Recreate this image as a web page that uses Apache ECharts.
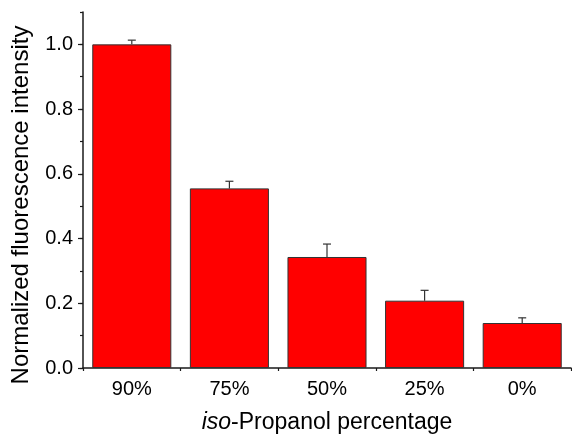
<!DOCTYPE html>
<html><head><meta charset="utf-8">
<script src="https://cdn.jsdelivr.net/npm/echarts@6/dist/echarts.min.js"></script>
<style>html,body{margin:0;padding:0;background:#fff}#c{width:572px;height:439px}</style>
</head><body><div id="c"></div>
<script>
const categories = ['90%', '75%', '50%', '25%', '0%'];
const values = [1.0, 0.555, 0.343, 0.208, 0.139];
const errors = [0.013, 0.022, 0.040, 0.032, 0.016];
const xTitleItalic = 'iso';
const xTitleRest = '-Propanol percentage';
const yTitle = 'Normalized fluorescence intensity';

const FONT = 'Arial, "Liberation Sans", sans-serif';
const AX = '#1a1a1a';
const chart = echarts.init(document.getElementById('c'), null, {renderer: 'canvas'});
chart.setOption({
  animation: false,
  backgroundColor: '#fff',
  grid: {left: 83, right: 1, top: 12, bottom: 70, containLabel: false},
  xAxis: [{
    type: 'category', data: categories, position: 'bottom',
    axisLine: {lineStyle: {color: AX, width: 1.5}},
    axisTick: {alignWithLabel: true, length: 6, lineStyle: {color: AX, width: 1.2}},
    axisLabel: {margin: 11, fontSize: 20, color: '#000', fontFamily: FONT},
    name: '{i|' + xTitleItalic + '}{r|' + xTitleRest + '}', nameLocation: 'middle', nameGap: 43,
    nameTextStyle: {
      fontSize: 23, color: '#000', fontFamily: FONT,
      rich: {
        i: {fontSize: 23, color: '#000', fontFamily: FONT, fontStyle: 'italic'},
        r: {fontSize: 23, color: '#000', fontFamily: FONT}
      }
    }
  }, {
    type: 'category', data: categories, position: 'bottom',
    axisLine: {show: false},
    axisTick: {show: true, length: 3, lineStyle: {color: AX, width: 1.2}},
    axisLabel: {show: false}
  }],
  yAxis: [{
    type: 'value', min: 0, max: 1.1, interval: 0.2,
    axisLine: {show: true, lineStyle: {color: AX, width: 1.5}},
    axisTick: {show: true, length: 5, lineStyle: {color: AX, width: 1.2}},
    splitLine: {show: false},
    axisLabel: {margin: 10, fontSize: 20, color: '#000', fontFamily: FONT, showMaxLabel: false,
      formatter: v => v.toFixed(1)},
    name: yTitle, nameLocation: 'middle', nameGap: 50, nameRotate: 90,
    nameTextStyle: {fontSize: 24, color: '#000', fontFamily: FONT, padding: [0, 30, 0, 0]}
  }, {
    type: 'value', min: 0, max: 1.1, interval: 0.1, position: 'left',
    axisLine: {show: false},
    axisTick: {show: true, length: 3, lineStyle: {color: AX, width: 1.2}},
    splitLine: {show: false},
    axisLabel: {show: false}
  }],
  series: [{
    type: 'bar', xAxisIndex: 0, yAxisIndex: 0,
    data: values, barCategoryGap: '19%',
    itemStyle: {color: '#ff0000', borderColor: '#333', borderWidth: 1}
  }, {
    type: 'custom', xAxisIndex: 0, yAxisIndex: 0, z: 5,
    data: categories.map((c, i) => [i, values[i], values[i] + errors[i]]),
    encode: {x: 0, y: 2},
    renderItem: function (params, api) {
      const i = api.value(0);
      const base = api.coord([i, api.value(1)]);
      const top = api.coord([i, api.value(2)]);
      const st = {stroke: '#333', lineWidth: 1.2};
      return {type: 'group', children: [
        {type: 'line', shape: {x1: base[0], y1: base[1], x2: top[0], y2: top[1]}, style: st},
        {type: 'line', shape: {x1: top[0] - 4, y1: top[1], x2: top[0] + 4, y2: top[1]}, style: st}
      ]};
    }
  }]
});
</script>
</body></html>
